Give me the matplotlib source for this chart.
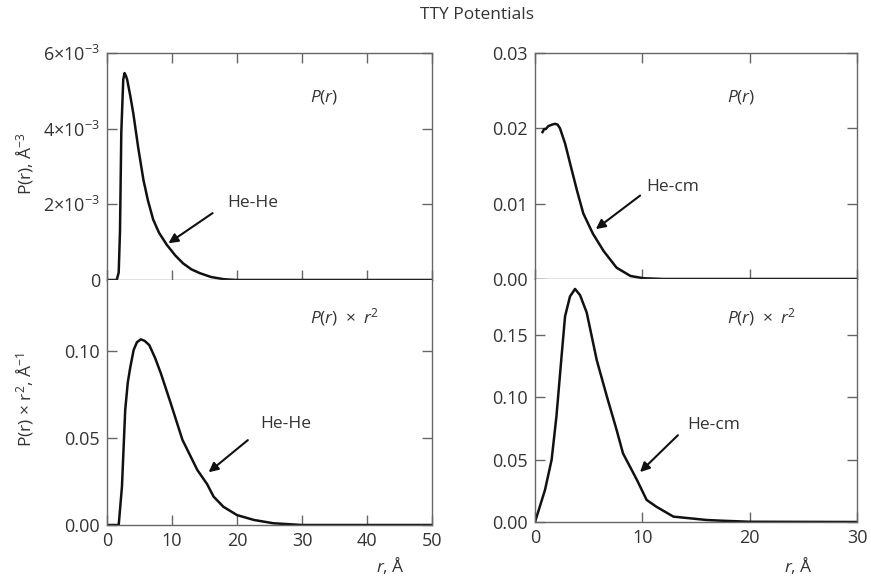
import matplotlib.pyplot as plt

plt.rcParams['font.family'] = ['Open Sans', 'DejaVu Sans']
plt.rcParams['mathtext.fontset'] = 'custom'
plt.rcParams['mathtext.rm'] = 'Open Sans'
plt.rcParams['mathtext.it'] = 'Open Sans:italic'
plt.rcParams['mathtext.default'] = 'regular'

# He-He, P(r) in units of 1e-3 A^-3
hehe_r = [0, 1.5, 1.8, 2.0, 2.2, 2.5, 2.7, 2.9, 3.1, 3.6, 4.05, 4.8, 5.6, 6.3, 7.1,
          8.0, 9.2, 10.5, 11.7, 13.0, 14.3, 16.0, 18.0, 20.0, 50]
hehe_p = [0, 0, 0.2, 1.3, 3.9, 5.3, 5.47, 5.4, 5.3, 4.85, 4.4, 3.5, 2.65, 2.1, 1.6,
          1.25, 0.93, 0.65, 0.44, 0.28, 0.18, 0.08, 0.02, 0, 0]

# He-He, P(r) * r^2
hehe_r2 = [0, 1.8, 2.3, 2.8, 3.2, 3.6, 4.1, 4.6, 5.2, 5.8, 6.5, 7.4, 8.3, 9.8, 11.6, 13.9,
           15.4, 16.4, 17.9, 20.0, 22.6, 25.6, 30, 50]
hehe_pr2 = [0, 0, 0.022, 0.066, 0.082, 0.091, 0.1006, 0.105, 0.1067, 0.1058, 0.1034, 0.096,
            0.087, 0.070, 0.049, 0.0316, 0.0235, 0.0163, 0.0105, 0.0057, 0.0029, 0.001, 0, 0]

# He-cm, P(r)
hecm_r = [0.7, 0.85, 1.0, 1.25, 1.6, 1.86, 2.1, 2.33, 2.8, 3.26, 3.9, 4.5, 5.4, 6.4,
          7.6, 8.9, 10.1, 12, 30]
hecm_p = [0.0195, 0.0199, 0.0199, 0.0203, 0.0205, 0.0206, 0.0205, 0.0200, 0.0180,
          0.0154, 0.0118, 0.0087, 0.0060, 0.0037, 0.0015, 0.0004, 0.0001, 0, 0]

# He-cm, P(r) * r^2
hecm_r2 = [0, 0.93, 1.55, 2.0, 2.5, 2.8, 3.26, 3.73, 4.2, 4.82, 5.75, 6.7, 7.6, 8.2,
           8.85, 9.5, 10.4, 11.3, 12.9, 14.4, 16, 17.5, 20, 30]
hecm_pr2 = [0, 0.0257, 0.05, 0.085, 0.1355, 0.165, 0.181, 0.187, 0.182, 0.168, 0.130,
            0.1006, 0.074, 0.055, 0.0444, 0.0337, 0.0177, 0.0123, 0.0043, 0.003, 0.0016,
            0.001, 0.0002, 0]

W, H = 871, 576
fig = plt.figure(figsize=(W / 100, H / 100), dpi=100)

def px_axes(x0, x1, ytop, ybot):
    return fig.add_axes([x0 / W, (H - ybot) / H, (x1 - x0) / W, (ybot - ytop) / H])

ax1 = px_axes(107, 432, 53, 280)
ax2 = px_axes(107, 432, 280, 525)
ax3 = px_axes(535, 857, 53, 279)
ax4 = px_axes(535, 857, 279, 522)

txt = '#333333'
fs = 12.5
for ax in (ax1, ax2, ax3, ax4):
    for s in ax.spines.values():
        s.set_color('#666666')
        s.set_linewidth(1.0)
    ax.tick_params(direction='in', length=7, width=1, color='#666666',
                   labelsize=13, labelcolor=txt, right=True, pad=5)

for ax in (ax1, ax3):
    ax.tick_params(top=True, labelbottom=False)
for ax in (ax2, ax4):
    ax.spines['top'].set_visible(False)

lw = 1.8
ax1.plot(hehe_r, [v * 1e-3 for v in hehe_p], color='#111111', lw=lw)
ax1.set_xlim(0, 50)
ax1.set_ylim(0, 6e-3)
ax1.set_xticks([0, 10, 20, 30, 40, 50])
ax1.set_yticks([0, 2e-3, 4e-3, 6e-3])
ax1.set_yticklabels(['0', r'2$\times$10$^{-3}$', r'4$\times$10$^{-3}$', r'6$\times$10$^{-3}$'])

ax2.plot(hehe_r2, hehe_pr2, color='#111111', lw=lw)
ax2.set_xlim(0, 50)
ax2.set_ylim(0, 0.1408)
ax2.set_xticks([0, 10, 20, 30, 40, 50])
ax2.set_yticks([0, 0.05, 0.10])
ax2.set_yticklabels(['0.00', '0.05', '0.10'])

ax3.plot(hecm_r, hecm_p, color='#111111', lw=lw)
ax3.set_xlim(0, 30)
ax3.set_ylim(0, 0.03)
ax3.set_xticks([0, 10, 20, 30])
ax3.set_yticks([0, 0.01, 0.02, 0.03])
ax3.set_yticklabels(['0.00', '0.01', '0.02', '0.03'])

ax4.plot(hecm_r2, hecm_pr2, color='#111111', lw=lw)
ax4.set_xlim(0, 30)
ax4.set_ylim(0, 0.195)
ax4.set_xticks([0, 10, 20, 30])
ax4.set_yticks([0, 0.05, 0.10, 0.15])
ax4.set_yticklabels(['0.00', '0.05', '0.10', '0.15'])

# panel labels
pr = r'$\mathit{P}(\mathit{r})$'
prr = r'$\mathit{P}(\mathit{r})\ \times\ \mathit{r}^2$'
fig.text(310 / W, 1 - 97 / H, pr, fontsize=fs, color=txt, va='center')
fig.text(310 / W, 1 - 317 / H, prr, fontsize=fs, color=txt, va='center')
fig.text(727 / W, 1 - 97 / H, pr, fontsize=fs, color=txt, va='center')
fig.text(727 / W, 1 - 317 / H, prr, fontsize=fs, color=txt, va='center')

# arrows
arrow = dict(arrowstyle='-|>', color='#111111', lw=1.5, mutation_scale=14)
ax1.annotate('', xy=(9.1, 0.93e-3), xytext=(16.6, 1.81e-3), arrowprops=arrow)
ax1.text(18.5, 2.03e-3, 'He-He', fontsize=fs, color=txt, va='center')
ax2.annotate('', xy=(15.3, 0.0293), xytext=(22.0, 0.0498), arrowprops=arrow)
ax2.text(23.5, 0.058, 'He-He', fontsize=fs, color=txt, va='center')
ax3.annotate('', xy=(5.46, 0.0064), xytext=(10.0, 0.0113), arrowprops=arrow)
ax3.text(10.4, 0.0122, 'He-cm', fontsize=fs, color=txt, va='center')
ax4.annotate('', xy=(9.6, 0.0385), xytext=(13.5, 0.0712), arrowprops=arrow)
ax4.text(14.2, 0.078, 'He-cm', fontsize=fs, color=txt, va='center')

# axis labels
fig.text(25 / W, 1 - 163 / H, r'P(r), Å$^{-3}$', rotation=90, fontsize=fs,
         color=txt, ha='center', va='center')
fig.text(25 / W, 1 - 400 / H, r'P(r) $\times$ r$^2$, Å$^{-1}$', rotation=90, fontsize=fs,
         color=txt, ha='center', va='center')
fig.text(405 / W, 1 - 566 / H, r'$\mathit{r}$, Å', fontsize=fs, color=txt,
         ha='right', va='center')
fig.text(813 / W, 1 - 566 / H, r'$\mathit{r}$, Å', fontsize=fs, color=txt,
         ha='right', va='center')

fig.text(477 / W, 1 - 15 / H, 'TTY Potentials', fontsize=fs, color=txt,
         ha='center', va='center')

plt.savefig('out.png', dpi=100)
